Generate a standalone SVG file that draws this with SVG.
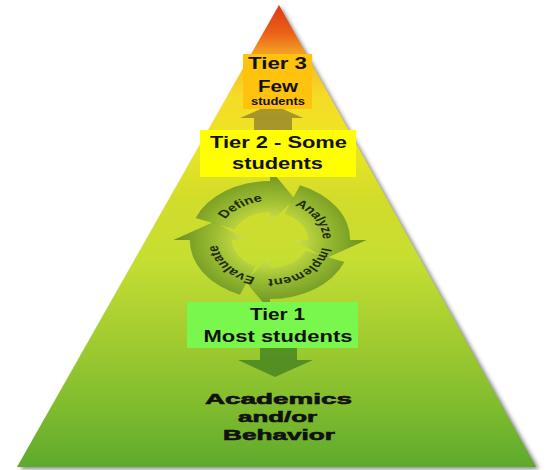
<svg xmlns="http://www.w3.org/2000/svg" width="548" height="470" viewBox="0 0 548 470">
  <defs>
    <linearGradient id="pyr" gradientUnits="userSpaceOnUse" x1="0" y1="5" x2="0" y2="467">
      <stop offset="0" stop-color="#de3a12"/>
      <stop offset="0.06" stop-color="#ea6018"/>
      <stop offset="0.1" stop-color="#f39a22"/>
      <stop offset="0.14" stop-color="#f7c425"/>
      <stop offset="0.2" stop-color="#f5dc25"/>
      <stop offset="0.3" stop-color="#ece625"/>
      <stop offset="0.42" stop-color="#d2dc2a"/>
      <stop offset="0.55" stop-color="#c6de32"/>
      <stop offset="0.72" stop-color="#a2cc30"/>
      <stop offset="0.86" stop-color="#82bd2e"/>
      <stop offset="1" stop-color="#5eaa2c"/>
    </linearGradient>
    <radialGradient id="ring" gradientUnits="userSpaceOnUse" cx="0" cy="0" r="72">
      <stop offset="0.3" stop-color="#c8dc4a"/>
      <stop offset="0.55" stop-color="#94b834"/>
      <stop offset="0.85" stop-color="#668f22"/>
      <stop offset="1" stop-color="#527e18"/>
    </radialGradient>
    <filter id="shadow" x="-5%" y="-5%" width="110%" height="110%">
      <feGaussianBlur stdDeviation="2"/>
    </filter>
    <filter id="soft" x="-10%" y="-10%" width="120%" height="120%">
      <feGaussianBlur stdDeviation="0.5"/>
    </filter>
    <path id="arrowShape" d="M -54.7 -22.1 A 59 59 0 0 1 0 -59 L 0 -71 L 18.3 -41.1 L 0 -17 L 0 -28 A 28 28 0 0 0 -25.96 -10.49 Z"/>
    <path id="labelPath" d="M -39 0 A 39 39 0 1 1 39 0 A 39 39 0 1 1 -39 0 A 39 39 0 1 1 39 0 A 39 39 0 1 1 -39 0"/>
  </defs>
  <style>
    .lbl { font-family: "Liberation Sans", Arial, sans-serif; font-weight: bold; fill: #111; text-anchor: middle; }
    .big { font-size: 16.5px; }
    .heavy { font-family: "Liberation Sans", Arial, sans-serif; font-weight: bold; font-size: 15px; fill: #111; stroke: #111; stroke-width: 0.6; text-anchor: middle; }
    .cyc { font-family: "Liberation Sans", Arial, sans-serif; font-weight: bold; font-size: 11px; fill: #1e2a0c; }
    .ringArrow { fill: url(#ring); fill-opacity: 0.82; }
  </style>

  <g id="pyramid">
    <polygon points="281,7 20,469 539,469" fill="#333" opacity="0.6" filter="url(#shadow)"/>
    <polygon points="279,5 17,467 536,467" fill="url(#pyr)"/>
  </g>

  <g id="connectors">
    <polygon id="arrow-up" points="272,104 303,118 292,118 292,131 254,131 254,118 240,118" fill="#9a8a2c" opacity="0.85" filter="url(#soft)"/>
    <polygon id="arrow-down" points="260,347 297,347 297,360 313,360 275,377 238,360 260,360" fill="#4e8a22" opacity="0.9" filter="url(#soft)"/>
  </g>

  <g id="cycle" transform="translate(270,240) scale(1.36,1)">
    <use href="#arrowShape" class="ringArrow"/>
    <use href="#arrowShape" class="ringArrow" transform="rotate(90)"/>
    <use href="#arrowShape" class="ringArrow" transform="rotate(180)"/>
    <use href="#arrowShape" class="ringArrow" transform="rotate(270)"/>
    <text class="cyc" text-anchor="middle"><textPath href="#labelPath" startOffset="283.6">Define</textPath></text>
    <text class="cyc" text-anchor="middle"><textPath href="#labelPath" startOffset="345.3">Analyze</textPath></text>
    <text class="cyc" text-anchor="middle"><textPath href="#labelPath" startOffset="402">Implement</textPath></text>
    <text class="cyc" text-anchor="middle"><textPath href="#labelPath" startOffset="461.5">Evaluate</textPath></text>
  </g>

  <g id="tier3">
    <rect x="243" y="54" width="69" height="55" fill="#ffc20a" filter="url(#soft)"/>
    <text class="lbl" x="277.5" y="69" font-size="16" textLength="59" lengthAdjust="spacingAndGlyphs">Tier 3</text>
    <text class="lbl" x="278" y="92" font-size="16" textLength="40" lengthAdjust="spacingAndGlyphs">Few</text>
    <text class="lbl" x="278" y="105" font-size="10" textLength="54" lengthAdjust="spacingAndGlyphs">students</text>
  </g>

  <g id="tier2">
    <rect x="200" y="130" width="156" height="47" fill="#ffff00"/>
    <text class="lbl big" x="278.5" y="148" textLength="137" lengthAdjust="spacingAndGlyphs">Tier 2 - Some</text>
    <text class="lbl big" x="277.5" y="169" textLength="91" lengthAdjust="spacingAndGlyphs">students</text>
  </g>

  <g id="tier1">
    <rect x="187" y="302" width="171" height="46" fill="#7af74c"/>
    <text class="lbl big" x="277.5" y="320" textLength="55" lengthAdjust="spacingAndGlyphs">Tier 1</text>
    <text class="lbl big" x="278" y="342" textLength="149" lengthAdjust="spacingAndGlyphs">Most students</text>
  </g>

  <g id="outcome">
    <text class="heavy" x="278.5" y="404" textLength="147" lengthAdjust="spacingAndGlyphs">Academics</text>
    <text class="heavy" x="277.5" y="422" textLength="79" lengthAdjust="spacingAndGlyphs">and/or</text>
    <text class="heavy" x="279" y="440" textLength="112" lengthAdjust="spacingAndGlyphs">Behavior</text>
  </g>
</svg>
